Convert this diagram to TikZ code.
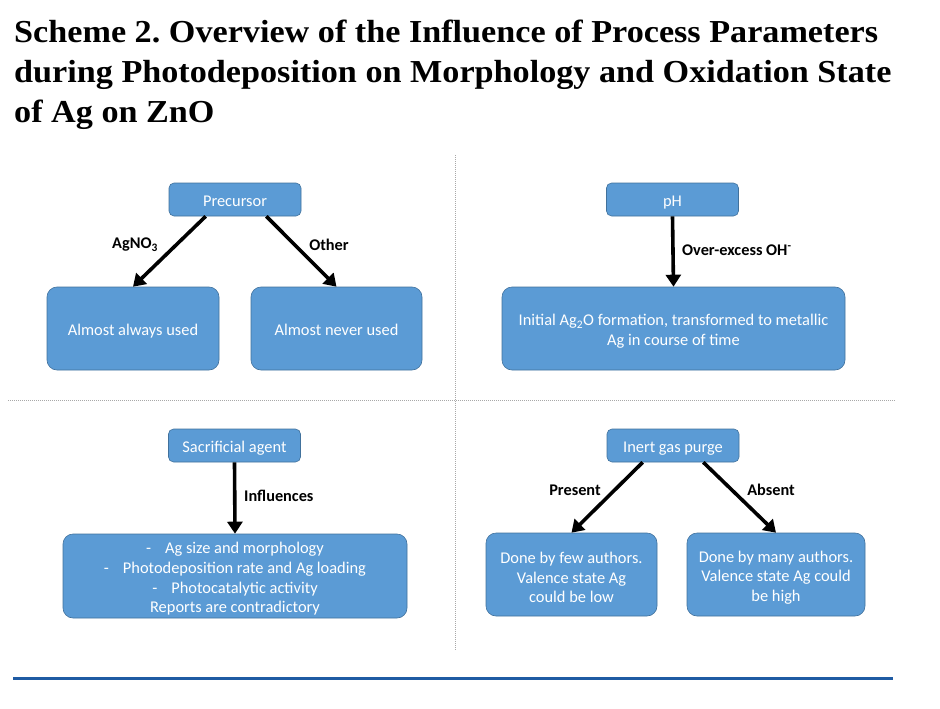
\documentclass[tikz,border=0pt]{standalone}
\usepackage{fontspec}
\setmainfont{Carlito}
\newfontfamily\titlefont[FakeStretch=1.068]{Liberation Serif}
\usetikzlibrary{arrows.meta}
\definecolor{boxfill}{HTML}{5B9BD5}
\definecolor{boxline}{HTML}{41719C}
\definecolor{rulecol}{HTML}{1F5BA3}
\definecolor{sepcol}{HTML}{A8A8A8}
\newcommand{\topstrutx}{\rule[-3.5pt]{0pt}{21pt}}
\frenchspacing
\begin{document}
\begin{tikzpicture}[x=1pt,y=-1pt,
  box/.style={draw=boxline, fill=boxfill, line width=0.6pt, text=white,
    font=\fontsize{16.4}{19.7}\selectfont, inner sep=0pt, align=center},
  smallbox/.style={box, rounded corners=5pt, minimum width=132pt, minimum height=33pt},
  bigbox/.style={box, rounded corners=10pt},
  arr/.style={line width=3.6pt, -{Triangle[width=15pt,length=12pt]}},
  lbl/.style={font=\bfseries\fontsize{16.3}{19}\selectfont, inner sep=0pt},
  sep/.style={sepcol, line width=0.7pt, dash pattern=on 1pt off 1pt},
  ttl/.style={font=\titlefont\bfseries\fontsize{32}{39}\selectfont, inner sep=0pt, anchor=base west}]
\useasboundingbox (0,0) rectangle (940,709);
% title
\node[ttl] (t1) at (14,43) {Scheme 2. Overview of the Influence of Process Parameters};
\node[ttl] (t2) at (14,83) {during Photodeposition on Morphology and Oxidation State};
\node[ttl] (t3) at (14,122) {of Ag on ZnO};
% separators
\coordinate (vt) at (455,155); \coordinate (vb) at (455,650);
\coordinate (hl) at (8,400); \coordinate (hr) at (895,400);
\draw[sep] (vt) -- (vb);
\draw[sep] (hl) -- (hr);
% bottom rule
\coordinate (rl) at (13,678); \coordinate (rr) at (893,678);
\draw[rulecol, line width=3pt] (rl) -- (rr);
% top-left
\node[smallbox] (prec) at (235,199.5) {\topstrutx Precursor};
\node[bigbox, minimum width=172pt, minimum height=83pt] (alw) at (133,328.5) {\topstrutx Almost always used};
\node[bigbox, minimum width=171pt, minimum height=83pt] (nev) at (336.5,328.5) {\topstrutx Almost never used};
\draw[arr] ([xshift=37pt]prec.south west) -- (alw.north);
\draw[arr] ([xshift=-35pt]prec.south east) -- (nev.north);
\node[lbl] (l1) at (135,245) {AgNO\textsubscript{3}};
\node[lbl] (l2) at (329,245) {Other};
% top-right
\node[smallbox] (ph) at (672.5,199.5) {\topstrutx pH};
\node[bigbox, minimum width=343pt, minimum height=83pt] (ag2o) at (673.5,328.5) {\topstrutx Initial Ag\textsubscript{2}O formation, transformed to metallic\\Ag in course of time};
\draw[arr] (ph.south) -- (ag2o.north);
\node[lbl, anchor=west] (l3) at (682,250) {Over-excess OH\textsuperscript{-}};
% bottom-left
\node[smallbox] (sac) at (234.5,445.5) {\topstrutx Sacrificial agent};
\node[bigbox, minimum width=344pt, minimum height=84pt] (inf) at (235,576) {\topstrutx -\hspace{14pt}Ag size and morphology\\-\hspace{14pt}Photodeposition rate and Ag loading\\-\hspace{14pt}Photocatalytic activity\\Reports are contradictory};
\draw[arr] (sac.south) -- (inf.north);
\node[lbl, anchor=west] (l4) at (244,496) {Influences};
% bottom-right
\node[smallbox] (gas) at (673,445.5) {\topstrutx Inert gas purge};
\node[bigbox, minimum width=171pt, minimum height=83pt] (few) at (571.5,574.5) {\topstrutx Done by few authors.\\Valence state Ag\\could be low};
\node[bigbox, minimum width=178pt, minimum height=83pt] (many) at (776,574.5) {\topstrutx Done by many authors.\\Valence state Ag could\\be high};
\draw[arr] ([xshift=36pt]gas.south west) -- (few.north);
\draw[arr] ([xshift=-36pt]gas.south east) -- (many.north);
\node[lbl] (l5) at (575,490) {Present};
\node[lbl] (l6) at (771,490) {Absent};
\end{tikzpicture}
\end{document}
